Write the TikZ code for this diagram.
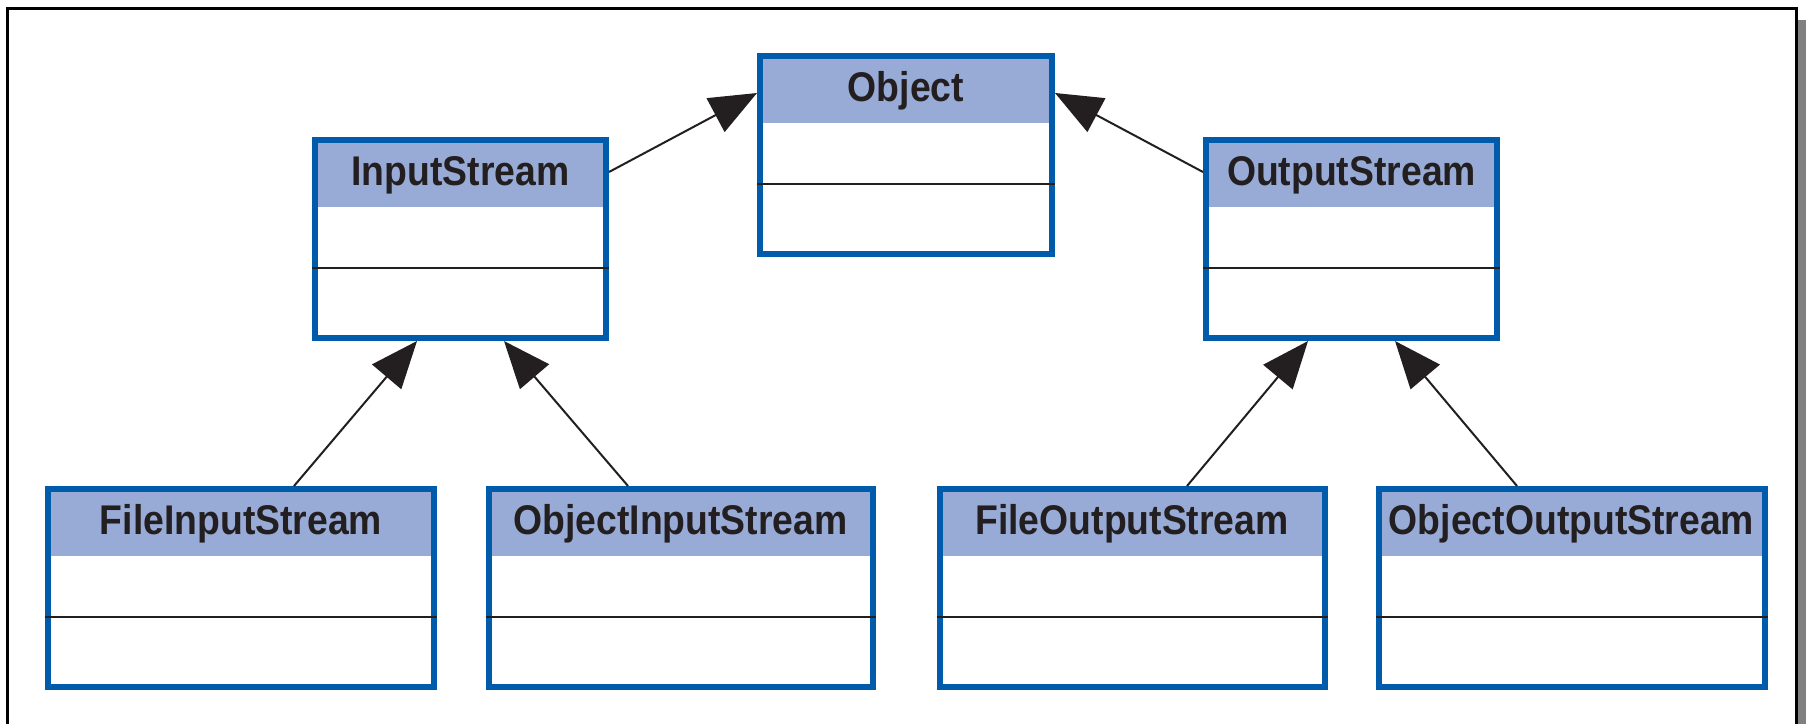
\documentclass[tikz,border=0pt]{standalone}
\usepackage{fontspec}
\newfontfamily\classfont{Liberation Sans}[FakeStretch=0.9]
\usetikzlibrary{arrows.meta}
\definecolor{umlblue}{RGB}{0,92,170}
\definecolor{umlhead}{RGB}{152,170,214}
\definecolor{ink}{RGB}{35,31,32}
\definecolor{shadowgray}{RGB}{128,128,128}

\begin{document}
\begin{tikzpicture}[x=1pt,y=-1pt,
  classbox/.style={draw=umlblue, line width=6pt, fill=white, rectangle, inner sep=0pt,
    minimum height=198pt,
    path picture={\fill[umlhead] (path picture bounding box.north west)
      rectangle ([yshift=-67pt]path picture bounding box.north east);}},
  classname/.style={anchor=base, inner sep=0pt, text=ink,
    font=\classfont\bfseries\fontsize{41.5}{45}\selectfont},
  divider/.style={draw=ink, line width=1.8pt},
  inherit/.style={draw=ink, line width=2pt, -{Triangle[length=47pt,width=38pt]}},
]
\useasboundingbox (0,0) rectangle (1806,723);

% page frame with its drop shadow
\fill[shadowgray] (1798,20) rectangle (1806,740);
\draw[line width=3pt, black] (7.5,740) -- (7.5,8) -- (1796,8) -- (1796,740);

% classes
\node[classbox, minimum width=292pt] (object) at (906,155) {};
\node[classbox, minimum width=291pt] (instream) at (460.5,239) {};
\node[classbox, minimum width=291pt] (outstream) at (1351.5,239) {};
\node[classbox, minimum width=386pt] (fis) at (241,588) {};
\node[classbox, minimum width=384pt] (ois) at (680.5,588) {};
\node[classbox, minimum width=385pt] (fos) at (1132,588) {};
\node[classbox, minimum width=386pt] (oos) at (1571.5,588) {};

% compartment dividers
\foreach \c in {object,instream,outstream,fis,ois,fos,oos}{
  \draw[divider] ([yshift=-131pt]\c.north west) -- ([yshift=-131pt]\c.north east);
}

% class names
\node[classname] (object-name) at ([yshift=-48pt]object.north) {Object};
\node[classname] (instream-name) at ([yshift=-48pt]instream.north) {InputStream};
\node[classname] (outstream-name) at ([yshift=-48pt]outstream.north) {OutputStream};
\node[classname] (fis-name) at ([yshift=-48pt]fis.north) {FileInputStream};
\node[classname] (ois-name) at ([yshift=-48pt]ois.north) {ObjectInputStream};
\node[classname] (fos-name) at ([yshift=-48pt]fos.north) {FileOutputStream};
\node[classname] (oos-name) at ([yshift=-48pt]oos.north) {ObjectOutputStream};

% generalisation arrows
\draw[inherit] ([yshift=67pt]instream.east) -- ([yshift=62pt]object.west);
\draw[inherit] ([yshift=67pt]outstream.west) -- ([yshift=62pt]object.east);
\draw[inherit] ([xshift=53pt]fis.north) -- ([xshift=-43.5pt]instream.south);
\draw[inherit] ([xshift=-52.5pt]ois.north) -- ([xshift=43.5pt]instream.south);
\draw[inherit] ([xshift=55pt]fos.north) -- ([xshift=-43.5pt]outstream.south);
\draw[inherit] ([xshift=-54.5pt]oos.north) -- ([xshift=43.5pt]outstream.south);
\end{tikzpicture}
\end{document}
